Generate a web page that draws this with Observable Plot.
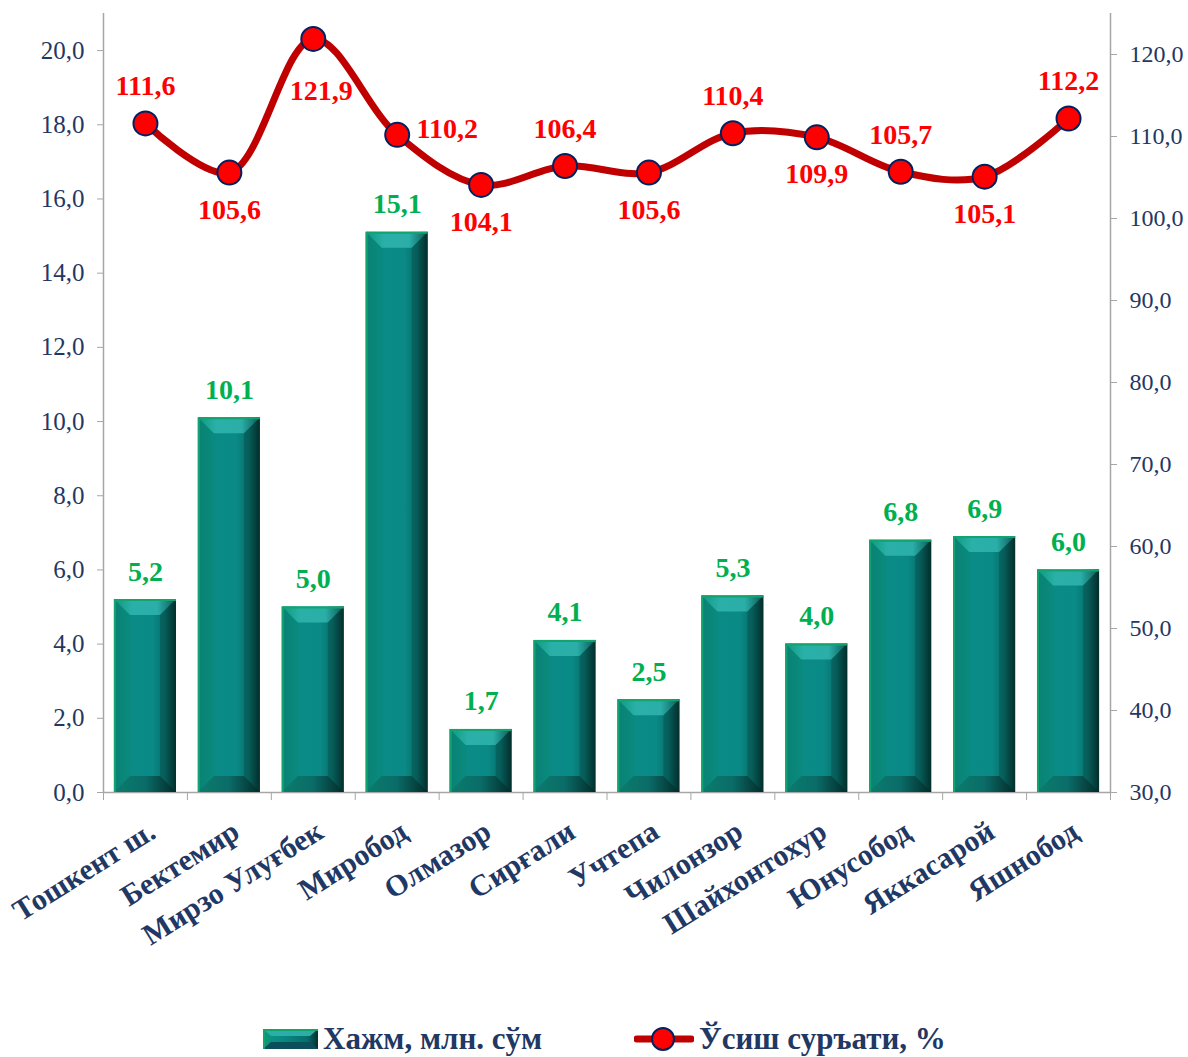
<!DOCTYPE html>
<html>
<head>
<meta charset="utf-8">
<script src="https://cdn.jsdelivr.net/npm/d3@7"></script>
<script src="https://cdn.jsdelivr.net/npm/@observablehq/plot@0.6"></script>
<style>
  html, body { margin: 0; padding: 0; background: #fff; }
  #wrap { width: 1188px; position: relative; font-family: "Liberation Serif", "Times New Roman", serif; }
  #legend { position: relative; height: 52px; width: 1188px; }
  .lg-item { position: absolute; top: 0; height: 52px; display: flex; align-items: center; }
  .lg-text { font-size: 31px; font-weight: bold; color: #1F3864; margin-left: 5px; white-space: nowrap; }
</style>
</head>
<body>
<div id="wrap"></div>
<script>
// ---------- data ----------
const categories = ["Тошкент ш.", "Бектемир", "Мирзо Улуғбек", "Миробод", "Олмазор", "Сирғали", "Учтепа", "Чилонзор", "Шайхонтохур", "Юнусобод", "Яккасарой", "Яшнобод"];
const volume = [5.2, 10.1, 5.0, 15.1, 1.7, 4.1, 2.5, 5.3, 4.0, 6.8, 6.9, 6.0];
const growth = [111.6, 105.6, 121.9, 110.2, 104.1, 106.4, 105.6, 110.4, 109.9, 105.7, 105.1, 112.2];
const growthLabelPos = ["top", "bottom", "bottomFar", "right", "bottom", "top", "bottom", "top", "bottom", "top", "bottom", "top"];
const leftTicks = [0, 2, 4, 6, 8, 10, 12, 14, 16, 18, 20];
const rightTicks = [30, 40, 50, 60, 70, 80, 90, 100, 110, 120];
const leftDomain = [0, 21];
const rightDomain = [30, 125];
const seriesNames = ["Хажм, млн. сўм", "Ўсиш суръати, %"];

// ---------- helpers ----------
const fmt = v => v.toFixed(1).replace(".", ",");
const toLeft = v => (v - rightDomain[0]) * (leftDomain[1] - leftDomain[0]) / (rightDomain[1] - rightDomain[0]) + leftDomain[0];
const fromLeft = d => (d - leftDomain[0]) * (rightDomain[1] - rightDomain[0]) / (leftDomain[1] - leftDomain[0]) + rightDomain[0];

const data = categories.map((c, i) => ({cat: c, vol: volume[i], gr: growth[i], grY: toLeft(growth[i]), pos: growthLabelPos[i]}));

const W = 1188, H = 1005, mL = 103, mR = 78, mT = 13, mB = 213;
const step = (W - mL - mR) / categories.length;
const grey = "#a6a6a6", navy = "#1F3864";
const font = "'Liberation Serif', 'Times New Roman', serif";

const labelStyle = {x: "cat", y: "grY", text: d => fmt(d.gr), fill: "#FF0000", fontSize: 28, fontWeight: "bold"};

const chart = Plot.plot({
  width: W, height: H,
  marginLeft: mL, marginRight: mR, marginTop: mT, marginBottom: mB,
  style: {fontFamily: font, background: "white", color: navy, overflow: "visible"},
  x: {domain: categories, paddingInner: 0.26, paddingOuter: 0.13, round: false, axis: null},
  y: {domain: leftDomain, axis: null},
  marks: [
    Plot.ruleY([0], {stroke: grey, strokeWidth: 1.5}),
    Plot.ruleX([categories[0]], {dx: -step / 2, stroke: grey, strokeWidth: 1.5}),
    Plot.ruleX([categories[categories.length - 1]], {dx: step / 2, stroke: grey, strokeWidth: 1.5}),
    Plot.axisY({anchor: "left", ticks: leftTicks, tickFormat: fmt, tickSize: 6, tickPadding: 13, fontSize: 25, stroke: grey, fill: navy, label: null}),
    Plot.axisY({anchor: "right", ticks: rightTicks.map(toLeft), tickFormat: d => fmt(Math.round(fromLeft(d))), tickSize: 6, tickPadding: 13, fontSize: 24, stroke: grey, fill: navy, label: null}),
    Plot.axisX({ticks: categories, tickSize: 8, tickFormat: () => "", dx: -step / 2, stroke: grey, label: null}),
    Plot.axisX({ticks: [categories[categories.length - 1]], tickSize: 8, tickFormat: () => "", dx: step / 2, stroke: grey, label: null}),
    Plot.axisX({ticks: categories, tickSize: 0, tickPadding: 36, tickRotate: -32, fontSize: 30, fontWeight: "bold", fill: navy, dx: 7, label: null}),
    Plot.barY(data, {x: "cat", y: "vol", fill: "url(#faceGrad)", className: "vol-bar"}),
    Plot.text(data, {x: "cat", y: "vol", text: d => fmt(d.vol), dy: -28, fill: "#00B050", fontSize: 28, fontWeight: "bold"}),
    Plot.line(data, {x: "cat", y: "grY", curve: "catmull-rom", stroke: "#C00000", strokeWidth: 7}),
    Plot.dot(data, {x: "cat", y: "grY", r: 12, fill: "#FF0000", stroke: "#002060", strokeWidth: 2}),
    Plot.text(data.filter(d => d.pos === "top"), {...labelStyle, dy: -37}),
    Plot.text(data.filter(d => d.pos === "bottom"), {...labelStyle, dy: 37}),
    Plot.text(data.filter(d => d.pos === "bottomFar"), {...labelStyle, dy: 52, dx: 8}),
    Plot.text(data.filter(d => d.pos === "right"), {...labelStyle, dx: 50, dy: -6})
  ]
});

// gradients for bevelled bars
const NS = "http://www.w3.org/2000/svg";
const defsHTML = `
  <linearGradient id="faceGrad" x1="0" x2="1" y1="0" y2="0">
    <stop offset="0" stop-color="#0d9a72"/>
    <stop offset="0.04" stop-color="#0a7d77"/>
    <stop offset="0.3" stop-color="#0a8b86"/>
    <stop offset="0.62" stop-color="#0a8a86"/>
    <stop offset="0.82" stop-color="#076f6b"/>
    <stop offset="1" stop-color="#03302e"/>
  </linearGradient>
  <linearGradient id="topGrad" x1="0" x2="1" y1="0" y2="0">
    <stop offset="0" stop-color="#0c9a7c"/>
    <stop offset="0.3" stop-color="#2bb0a9"/>
    <stop offset="0.7" stop-color="#2aaea7"/>
    <stop offset="1" stop-color="#0b5955"/>
  </linearGradient>
  <linearGradient id="botGrad" x1="0" x2="1" y1="0" y2="0">
    <stop offset="0" stop-color="#0a7d6c"/>
    <stop offset="0.5" stop-color="#0a6c68"/>
    <stop offset="1" stop-color="#032a28"/>
  </linearGradient>`;

function bevel(svg, rect, b) {
  const x = +rect.getAttribute("x"), y = +rect.getAttribute("y");
  const w = +rect.getAttribute("width"), h = +rect.getAttribute("height");
  const bb = Math.min(b, h / 2, w / 2);
  const g = rect.parentNode;
  const poly = (pts, fill, op) => {
    const p = document.createElementNS(NS, "polygon");
    p.setAttribute("points", pts.map(q => q.join(",")).join(" "));
    p.setAttribute("fill", fill);
    if (op != null) p.setAttribute("fill-opacity", op);
    g.appendChild(p);
  };
  poly([[x, y], [x + w, y], [x + w - bb, y + bb], [x + bb, y + bb]], "url(#topGrad)");
  poly([[x, y + h], [x + w, y + h], [x + w - bb, y + h - bb], [x + bb, y + h - bb]], "url(#botGrad)");
  poly([[x, y], [x + bb, y + bb], [x + bb, y + h - bb], [x, y + h]], "#0a8e74", 0.35);
  poly([[x + w, y], [x + w - bb, y + bb], [x + w - bb, y + h - bb], [x + w, y + h]], "#022624", 0.25);
  const edge = document.createElementNS(NS, "path");
  edge.setAttribute("d", `M${x + 1},${y + h}V${y + 1}H${x + w}`);
  edge.setAttribute("stroke", "#12a36e");
  edge.setAttribute("stroke-width", 2);
  edge.setAttribute("fill", "none");
  g.appendChild(edge);
}

const defs = document.createElementNS(NS, "defs");
defs.innerHTML = defsHTML;
chart.insertBefore(defs, chart.firstChild);
chart.querySelectorAll(".vol-bar rect").forEach(r => bevel(chart, r, 16));

const wrap = document.getElementById("wrap");
wrap.appendChild(chart);

// legend
const legend = document.createElement("div");
legend.id = "legend";
legend.innerHTML = `
  <div class="lg-item" style="left:263px; top:8px">
    <svg width="55" height="20" viewBox="0 0 55 20">
      <defs>
        <linearGradient id="lgFace" x1="0" x2="1" y1="0" y2="0">
          <stop offset="0" stop-color="#0d9a72"/><stop offset="0.3" stop-color="#0a8b86"/>
          <stop offset="0.8" stop-color="#076f6b"/><stop offset="1" stop-color="#03302e"/>
        </linearGradient>
      </defs>
      <rect x="0" y="0" width="55" height="20" fill="url(#lgFace)"/>
      <polygon points="0,0 55,0 47,7 8,7" fill="#2aaea7"/>
      <polygon points="0,20 55,20 47,13 8,13" fill="#0b4f5a"/>
      <path d="M1,20V1H55" stroke="#12a36e" stroke-width="2" fill="none"/>
    </svg>
    <span class="lg-text">${seriesNames[0]}</span>
  </div>
  <div class="lg-item" style="left:634px; top:8px">
    <svg width="60" height="26" viewBox="0 0 60 26">
      <line x1="3" y1="13" x2="57" y2="13" stroke="#C00000" stroke-width="7" stroke-linecap="round"/>
      <circle cx="29" cy="13" r="11" fill="#FF0000" stroke="#002060" stroke-width="2"/>
    </svg>
    <span class="lg-text">${seriesNames[1]}</span>
  </div>`;
wrap.appendChild(legend);
</script>
</body>
</html>
